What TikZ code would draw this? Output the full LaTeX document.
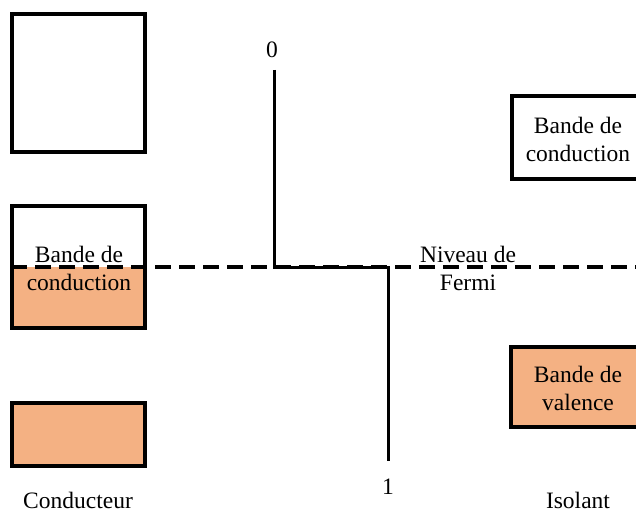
\documentclass[tikz,border=0pt]{standalone}
\usepackage{fontspec}
\setmainfont{Liberation Serif}
\newfontfamily\tnrfont{Liberation Serif}
\definecolor{bandfill}{HTML}{F4B183}
\begin{document}
\begin{tikzpicture}[x=1pt,y=-1pt,
  bandbox/.style={draw=black,line width=3.2pt},
  filled/.style={fill=bandfill},
  lbl/.style={inner sep=0pt,align=center,font=\tnrfont\fontsize{23.5}{28}\selectfont},
  fermiline/.style={line width=3.5pt,dash pattern=on 16pt off 8pt,dash phase=1pt},
  stepline/.style={line width=3pt,line join=miter}]
\useasboundingbox (0,0) rectangle (636,513);
% left column (conducteur)
\draw[bandbox] (12,14) rectangle (145,152);
\fill[filled] (12,267) rectangle (145,328);
\draw[bandbox] (12,206) rectangle (145,328);
\draw[bandbox,filled] (12,403) rectangle (145,466);
\node[lbl] (lcb) at (79,268) {Bande de\\conduction};
\node[lbl] (lcond) at (78,500) {Conducteur};
% right column (isolant)
\draw[bandbox] (512,96) rectangle (645,179);
\node[lbl] (rcb) at (578,139) {Bande de\\conduction};
\draw[bandbox,filled] (511,347) rectangle (645,427);
\node[lbl] (rvb) at (578,388) {Bande de\\valence};
\node[lbl] (riso) at (578,500) {Isolant};
% Fermi level
\coordinate (fl) at (12,267);
\coordinate (fr) at (636,267);
\draw[fermiline] (fl) -- (fr);
\node[lbl] (fermi) at (468,268) {Niveau de\\Fermi};
% Fermi-Dirac step
\node[lbl] (zero) at (272,50) {0};
\node[lbl] (one) at (388,487) {1};
\coordinate (s0) at (274,70);
\coordinate (s1) at (274,267);
\coordinate (s2) at (388,267);
\coordinate (s3) at (388,461);
\draw[stepline] (s0) -- (s1) -- (s2) -- (s3);
\end{tikzpicture}
\end{document}
